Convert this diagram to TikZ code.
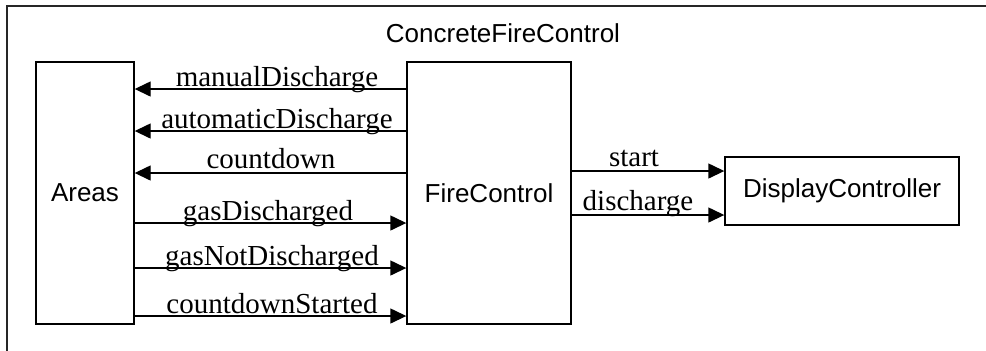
\documentclass[tikz,border=0pt]{standalone}
\usepackage{fontspec}
\setmainfont{Liberation Serif}
\setsansfont{Liberation Sans}
\usetikzlibrary{arrows.meta}
\begin{document}
\begin{tikzpicture}[x=0.5pt,y=-0.5pt,
  box/.style={draw=black,line width=0.7pt,inner sep=0pt,font=\sffamily\fontsize{13}{15}\selectfont},
  lbl/.style={anchor=base,inner sep=0pt,font=\fontsize{14.5}{16}\selectfont},
  arr/.style={line width=0.7pt,-{Triangle[length=8pt,width=7.5pt]}}]
\useasboundingbox (0,0) rectangle (986,350);
\begin{scope}
\clip (0,0) rectangle (986,350);
\draw[line width=0.8pt,draw=black!85] (7,6) rectangle (1100,420);
\end{scope}
\node[inner sep=0pt,font=\sffamily\fontsize{13}{15}\selectfont] (title) at (503,33) {ConcreteFireControl};
\node[box,minimum width=49pt,minimum height=131pt] (areas) at (85,193) {Areas};
\node[box,minimum width=82pt,minimum height=131pt] (fc) at (489,193) {FireControl};
\node[box,minimum width=117pt,minimum height=34pt] (dc) at (842,191) {DisplayController};
% FireControl -> Areas
\draw[arr] (fc.west|-0,89) -- (areas.east|-0,89);
\draw[arr] (fc.west|-0,131) -- (areas.east|-0,131);
\draw[arr] (fc.west|-0,173) -- (areas.east|-0,173);
% Areas -> FireControl
\draw[arr] (areas.east|-0,223) -- (fc.west|-0,223);
\draw[arr] (areas.east|-0,268) -- (fc.west|-0,268);
\draw[arr] (areas.east|-0,316) -- (fc.west|-0,316);
% FireControl -> DisplayController
\draw[arr] (fc.east|-0,171) -- (dc.west|-0,171);
\draw[arr] (fc.east|-0,215) -- (dc.west|-0,215);
% labels
\node[lbl] (l1) at (277,86) {manualDischarge};
\node[lbl] (l2) at (277,128) {automaticDischarge};
\node[lbl] (l3) at (271,168) {countdown};
\node[lbl] (l4) at (268,220) {gasDischarged};
\node[lbl] (l5) at (272,265) {gasNotDischarged};
\node[lbl] (l6) at (272,313) {countdownStarted};
\node[lbl] (l7) at (634,166) {start};
\node[lbl] (l8) at (638,210) {discharge};
\end{tikzpicture}
\end{document}
